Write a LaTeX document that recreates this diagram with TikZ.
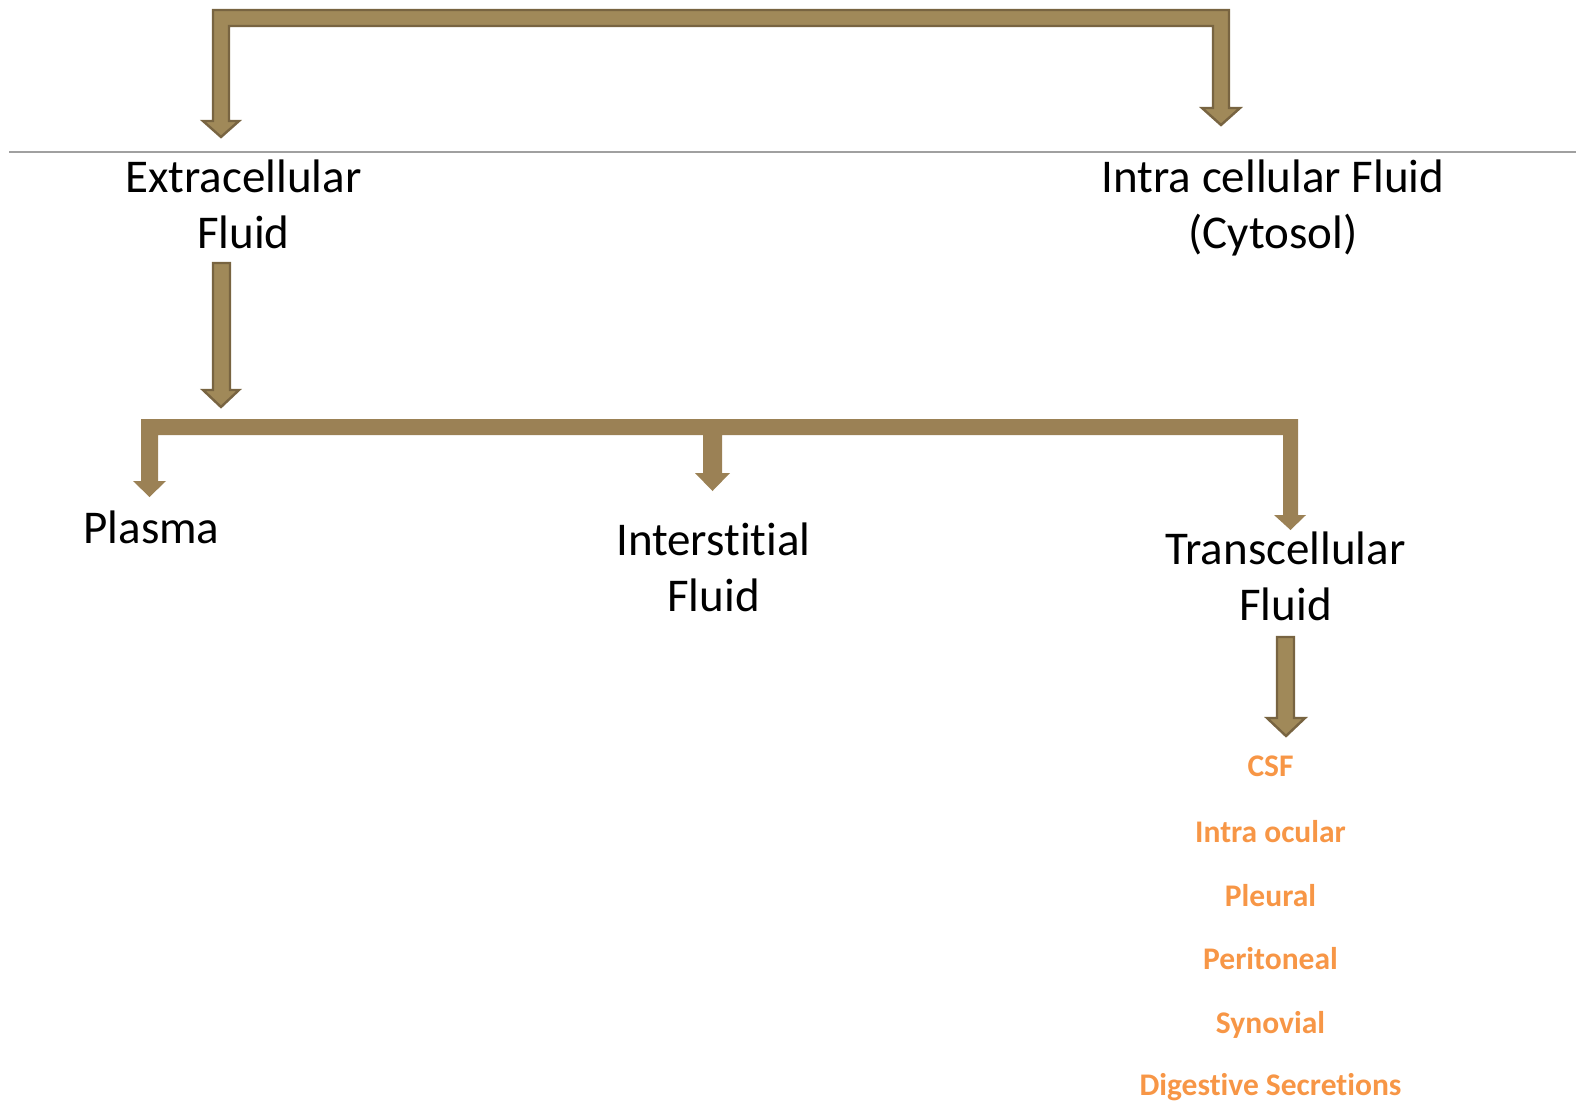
\documentclass[tikz,border=0pt]{standalone}
\usepackage{fontspec}
\setmainfont[Ligatures={NoCommon}]{Carlito}
\definecolor{arrfill}{HTML}{A08959}
\definecolor{arrline}{HTML}{786441}
\definecolor{arrflat}{HTML}{9B8155}
\definecolor{listorange}{HTML}{F79646}
\definecolor{rulegray}{HTML}{A0A0A0}
\begin{document}
\begin{tikzpicture}[x=1pt,y=-1pt,
  blockarrow/.style={fill=arrfill,draw=arrline,line width=2.4pt,line join=miter},
  flatarrow/.style={fill=arrflat},
  bigtext/.style={font=\fontsize{47}{56}\selectfont,align=center,inner sep=0pt,anchor=base},
  listtext/.style={font=\fontsize{31.5}{36}\selectfont\bfseries,text=listorange,inner sep=0pt,anchor=base}]
\useasboundingbox (0,0) rectangle (1576,1104);
% separator rule
\coordinate (ruleL) at (9,152);
\coordinate (ruleR) at (1576,152);
\draw[rulegray,line width=1.3pt] (ruleL) -- (ruleR);
% top bracket arrow
\draw[blockarrow] (213,10) -- (1229,10) -- (1229,108) -- (1240,108) -- (1221,125) -- (1202,108) -- (1213,108) -- (1213,26) -- (229,26) -- (229,121) -- (239,121) -- (221,137) -- (203,121) -- (213,121) -- cycle;
% text nodes (base = baseline of last line)
\node[bigtext] (ecf) at (243.5,248) {Extracellular\\Fluid};
\node[bigtext] (icf) at (1273,248) {Intra cellular Fluid\\(Cytosol)};
% ECF down arrow
\draw[blockarrow] (213,263) -- (230,263) -- (230,390) -- (239,390) -- (221,407) -- (203,390) -- (213,390) -- cycle;
% middle bracket arrow
\fill[flatarrow] (141,419) -- (1298,419) -- (1298,515) -- (1306,515) -- (1290.5,530) -- (1274,515) -- (1283,515) -- (1283,435) -- (722,435) -- (722,473) -- (730,473) -- (712.5,491) -- (695,473) -- (703,473) -- (703,435) -- (158,435) -- (158,481) -- (166,481) -- (149.5,497) -- (133,481) -- (141,481) -- cycle;
\node[bigtext] (plasma) at (151.5,543) {Plasma};
\node[bigtext] (isf) at (713.5,611) {Interstitial\\Fluid};
\node[bigtext] (tcf) at (1285.5,620) {Transcellular\\Fluid};
% TCF down arrow
\draw[blockarrow] (1277,637) -- (1294,637) -- (1294,718) -- (1305,718) -- (1286,736) -- (1267,718) -- (1277,718) -- cycle;
% list
\node[listtext] (csf) at (1270.5,776) {CSF};
\node[listtext] (ocular) at (1270.5,842) {Intra ocular};
\node[listtext] (pleural) at (1270.5,906) {Pleural};
\node[listtext] (perit) at (1270.5,969) {Peritoneal};
\node[listtext] (synov) at (1270.5,1033) {Synovial};
\node[listtext] (digest) at (1270.5,1095) {Digestive Secretions};
\end{tikzpicture}
\end{document}
